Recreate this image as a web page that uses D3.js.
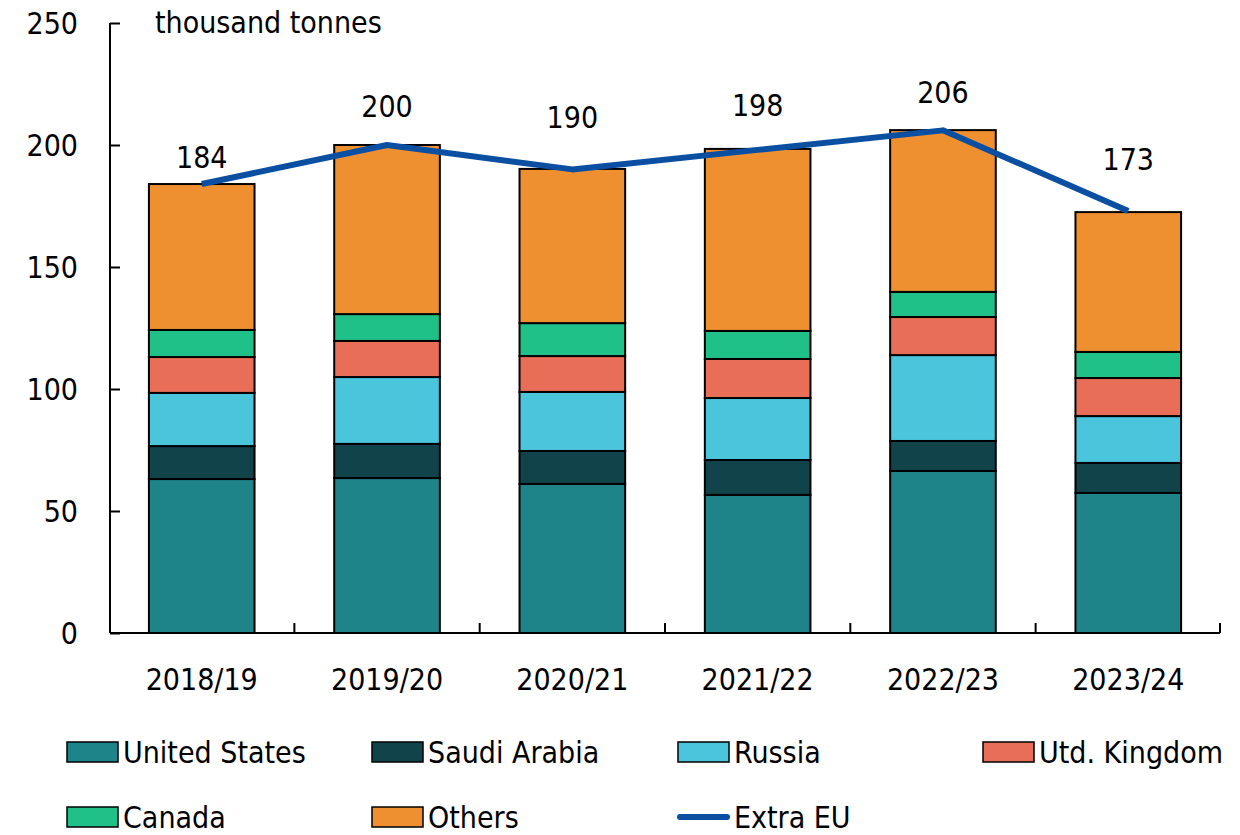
<!DOCTYPE html>
<html>
<head>
<meta charset="utf-8">
<script src="https://cdn.jsdelivr.net/npm/d3@7"></script>
<style>
  body { margin: 0; background: #fff; }
  svg text { font-family: "DejaVu Sans Condensed", "DejaVu Sans", sans-serif; font-stretch: condensed; fill: #000; }
</style>
</head>
<body>
<div id="chart"></div>
<script>
    var years = ["2018/19", "2019/20", "2020/21", "2021/22", "2022/23", "2023/24"];
    var countries = ["United States", "Saudi Arabia", "Russia", "Utd. Kingdom", "Canada", "Others"];
    var unitedStates = [63.1, 63.5, 61.1, 56.6, 66.4, 57.4];
    var saudiArabia = [13.5, 14.0, 13.5, 14.3, 12.3, 12.3];
    var russia = [21.8, 27.4, 24.2, 25.4, 35.2, 19.2];
    var utdKingdom = [14.7, 14.8, 14.7, 16.0, 15.6, 15.6];
    var canada = [11.1, 11.0, 13.5, 11.5, 10.3, 10.7];
    var others = [59.8, 69.3, 63.2, 74.6, 66.3, 57.3];
    var extraEU = [184, 200, 190, 198, 206, 173];
    var yTicks = [0, 50, 100, 150, 200, 250];

    var colors = ["#1e8489", "#11444a", "#4bc5dc", "#e96e57", "#20c089", "#ee9030"];
    var lineColor = "#0a4fa2";
    // extra lift of the total labels above the line points (px)
    var labelLift = [27, 39, 52, 44, 38, 51];

    var w = 1240, h = 835;
    var margin = { left: 110, right: 20, top: 23, bottom: 202 };
    var plotRight = w - margin.right;

    var svg = d3.select("#chart").append("svg")
        .attr("width", w)
        .attr("height", h);

    var x = d3.scaleBand()
        .domain(years)
        .range([margin.left, plotRight])
        .paddingInner(0.43)
        .paddingOuter(0.21);

    var y = d3.scaleLinear()
        .domain([0, 250])
        .range([h - margin.bottom, margin.top]);

    var series = [unitedStates, saudiArabia, russia, utdKingdom, canada, others];
    var rows = years.map(function (yr, i) {
        var r = { year: yr };
        countries.forEach(function (c, k) { r[c] = series[k][i]; });
        return r;
    });
    var stacked = d3.stack().keys(countries)(rows);

    svg.append("g").selectAll("g")
        .data(stacked)
        .enter().append("g")
        .attr("fill", function (d, i) { return colors[i]; })
        .selectAll("rect")
        .data(function (d) { return d; })
        .enter().append("rect")
        .attr("x", function (d) { return x(d.data.year); })
        .attr("y", function (d) { return y(d[1]); })
        .attr("width", x.bandwidth())
        .attr("height", function (d) { return y(d[0]) - y(d[1]); })
        .attr("stroke", "#000")
        .attr("stroke-width", 2);

    // y axis with inward ticks
    var yAxis = svg.append("g")
        .attr("transform", "translate(" + margin.left + ",0)")
        .call(d3.axisRight(y).tickValues(yTicks).tickSize(10).tickFormat(""));
    yAxis.select(".domain").attr("stroke", "#000").attr("stroke-width", 2)
        .attr("d", "M0," + y(0) + "V" + y(250));
    yAxis.selectAll(".tick line").attr("stroke", "#000").attr("stroke-width", 2);

    svg.append("g").selectAll("text")
        .data(yTicks)
        .enter().append("text")
        .attr("x", 78)
        .attr("y", function (d) { return y(d); })
        .attr("dy", "0.35em")
        .attr("text-anchor", "end")
        .style("font-size", "30px")
        .text(function (d) { return d; });

    // x axis with ticks between categories
    var step = x.step();
    var sepTicks = years.slice(1).map(function (yr) { return x(yr) - (step - x.bandwidth()) / 2; });
    var xg = svg.append("g");
    xg.append("line")
        .attr("x1", margin.left).attr("x2", plotRight)
        .attr("y1", y(0)).attr("y2", y(0))
        .attr("stroke", "#000").attr("stroke-width", 2);
    xg.selectAll("line.sep")
        .data(sepTicks.concat([plotRight]))
        .enter().append("line")
        .attr("class", "sep")
        .attr("x1", function (d) { return d; }).attr("x2", function (d) { return d; })
        .attr("y1", y(0)).attr("y2", y(0) - 10)
        .attr("stroke", "#000").attr("stroke-width", 2);
    xg.selectAll("text")
        .data(years)
        .enter().append("text")
        .attr("x", function (d) { return x(d) + x.bandwidth() / 2; })
        .attr("y", y(0) + 46)
        .attr("dy", "0.35em")
        .attr("text-anchor", "middle")
        .style("font-size", "30px")
        .text(function (d) { return d; });

    // unit label
    svg.append("text")
        .attr("x", 155)
        .attr("y", 22)
        .attr("dy", "0.35em")
        .style("font-size", "30px")
        .text("thousand tonnes");

    // Extra EU line
    var line = d3.line()
        .x(function (d, i) { return x(years[i]) + x.bandwidth() / 2; })
        .y(function (d) { return y(d); });
    svg.append("path")
        .datum(extraEU)
        .attr("fill", "none")
        .attr("stroke", lineColor)
        .attr("stroke-width", 6)
        .attr("stroke-linejoin", "round")
        .attr("d", line);

    svg.append("g").selectAll("text")
        .data(extraEU)
        .enter().append("text")
        .attr("x", function (d, i) { return x(years[i]) + x.bandwidth() / 2; })
        .attr("y", function (d, i) { return y(d) - labelLift[i]; })
        .attr("dy", "0.35em")
        .attr("text-anchor", "middle")
        .style("font-size", "30px")
        .text(function (d) { return d; });

    // legend
    var legendItems = countries.map(function (c, i) { return { name: c, color: colors[i], type: "rect" }; });
    legendItems.push({ name: "Extra EU", color: lineColor, type: "line" });
    var colX = [67, 372, 678, 983];
    var rowY = [752, 817];

    var lg = svg.append("g").selectAll("g")
        .data(legendItems)
        .enter().append("g")
        .attr("transform", function (d, i) {
            return "translate(" + colX[i % 4] + "," + rowY[Math.floor(i / 4)] + ")";
        });
    lg.filter(function (d) { return d.type === "rect"; })
        .append("rect")
        .attr("x", 0).attr("y", -10)
        .attr("width", 51).attr("height", 20)
        .attr("fill", function (d) { return d.color; })
        .attr("stroke", "#000").attr("stroke-width", 1.5);
    lg.filter(function (d) { return d.type === "line"; })
        .append("line")
        .attr("x1", 2).attr("x2", 49)
        .attr("y1", 0).attr("y2", 0)
        .attr("stroke", function (d) { return d.color; })
        .attr("stroke-width", 6)
        .attr("stroke-linecap", "round");
    lg.append("text")
        .attr("x", 56)
        .attr("y", 0)
        .attr("dy", "0.35em")
        .style("font-size", "30px")
        .text(function (d) { return d.name; });
</script>
</body>
</html>
